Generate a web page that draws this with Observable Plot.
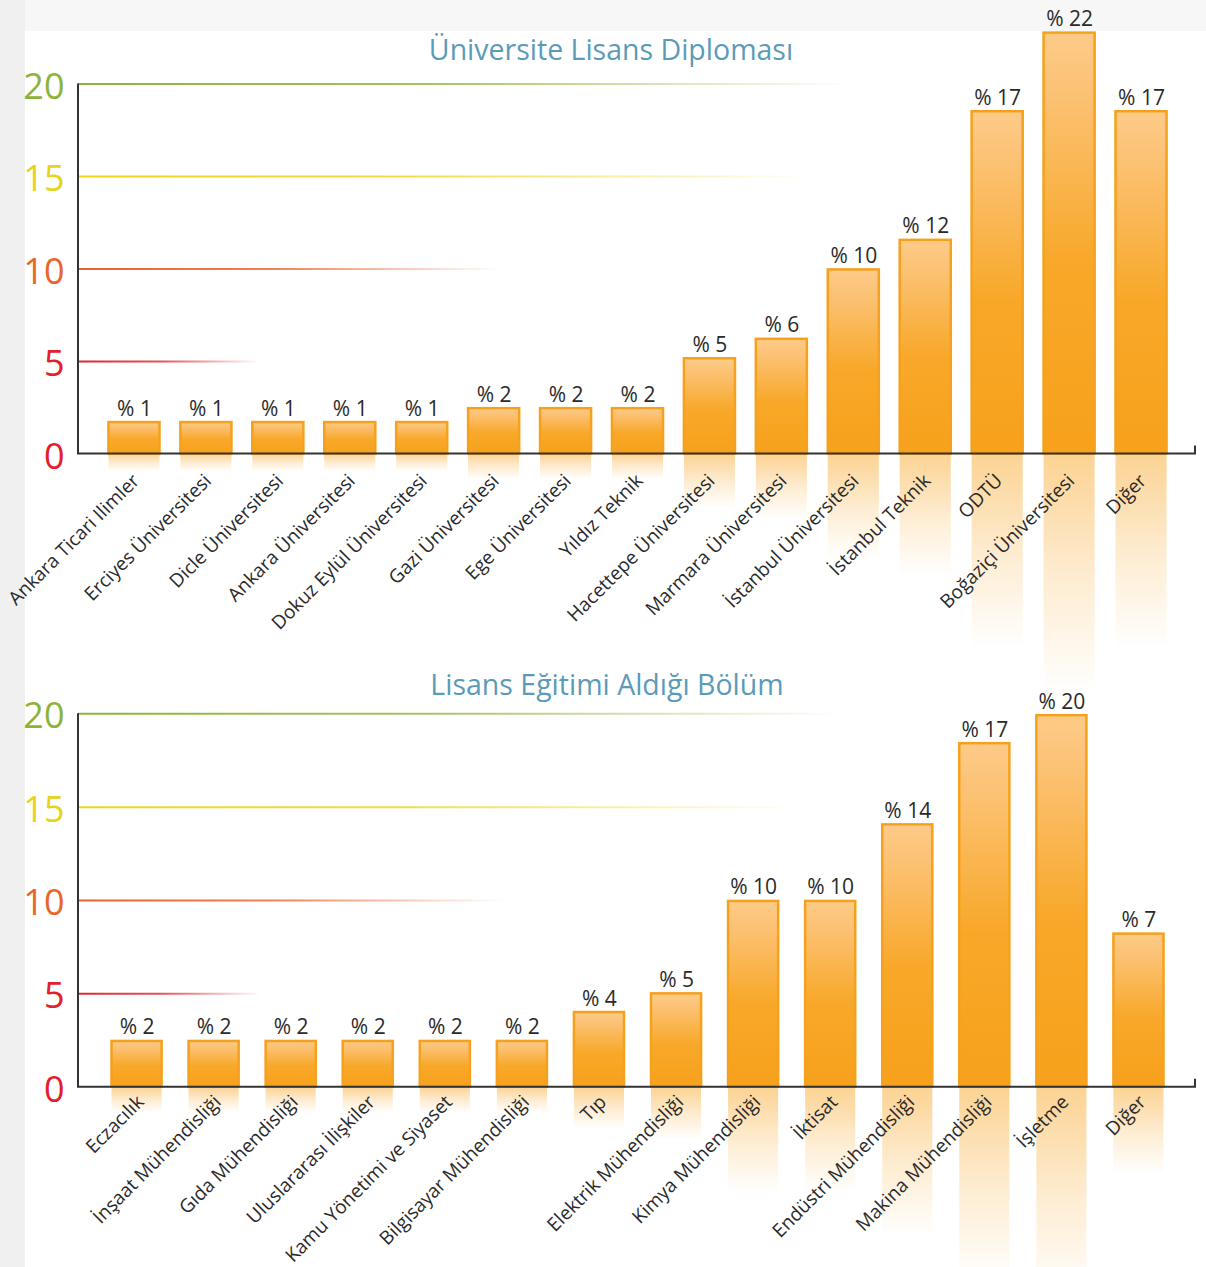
<!DOCTYPE html>
<html>
<head>
<meta charset="utf-8">
<script src="https://cdn.jsdelivr.net/npm/d3@7"></script>
<script src="https://cdn.jsdelivr.net/npm/@observablehq/plot@0.6"></script>
<style>
html, body { margin: 0; padding: 0; }
body { width: 1206px; height: 1267px; position: relative; overflow: hidden; background: #f0f0f0; font-family: "Open Sans", sans-serif; }
#topstrip { position: absolute; left: 25px; top: 0; right: 0; height: 31px; background: #f7f7f7; }
#panel { position: absolute; left: 25px; top: 31px; right: 0; bottom: 0; background: #ffffff; }
.chart { position: absolute; left: 0; }
.title { position: absolute; color: #5b9bb8; font-size: 28.5px; white-space: nowrap; transform: translateX(-50%); line-height: 38px; }
</style>
</head>
<body>
<div id="topstrip"></div>
<div id="panel"></div>
<div id="c1" class="chart" style="top:0px"></div>
<div id="c2" class="chart" style="top:640px"></div>
<div class="title" style="left:611px; top:30px">Üniversite Lisans Diploması</div>
<div class="title" style="left:607px; top:665px">Lisans Eğitimi Aldığı Bölüm</div>
<script>
// ---- Data ----
const universities = ["Ankara Ticari Ilimler", "Erciyes Üniversitesi", "Dicle Üniversitesi", "Ankara Üniversitesi", "Dokuz Eylül Üniversitesi", "Gazi Üniversitesi", "Ege Üniversitesi", "Yıldız Teknik", "Hacettepe Üniversitesi", "Marmara Üniversitesi", "İstanbul Üniversitesi", "İstanbul Teknik", "ODTÜ", "Boğaziçi Üniversitesi", "Diğer"];
const universityPercents = [1, 1, 1, 1, 1, 2, 2, 2, 5, 6, 10, 12, 17, 22, 17];
const universityBarHeights = [1.7, 1.7, 1.7, 1.7, 1.7, 2.45, 2.45, 2.45, 5.15, 6.2, 9.95, 11.55, 18.5, 22.75, 18.5];

const departments = ["Eczacılık", "İnşaat Mühendisliği", "Gıda Mühendisliği", "Uluslararası İlişkiler", "Kamu Yönetimi ve Siyaset", "Bilgisayar Mühendisliği", "Tıp", "Elektrik Mühendisliği", "Kimya Mühendisliği", "İktisat", "Endüstri Mühendisliği", "Makina Mühendisliği", "İşletme", "Diğer"];
const departmentPercents = [2, 2, 2, 2, 2, 2, 4, 5, 10, 10, 14, 17, 20, 7];
const departmentBarHeights = [2.45, 2.45, 2.45, 2.45, 2.45, 2.45, 4.0, 5.0, 9.95, 9.95, 14.05, 18.4, 19.9, 8.2];

const yTicks = [0, 5, 10, 15, 20];
const tickColors = ["#e2202b", "#e2202b", "#e8652b", "#e8d31c", "#8db33b"];
const gridValues = [5, 10, 15, 20];
const gridColors = ["#e0262c", "#e8602c", "#efd41a", "#8db33a"];

function makeChart(cfg) {
  const data = cfg.names.map((name, i) => ({name, h: cfg.heights[i], p: cfg.percents[i]}));
  const id = cfg.id;
  const defs = () => {
    const d = d3.create("svg:defs");
    const bar = d.append("linearGradient").attr("id", id + "-bar").attr("x1", 0).attr("y1", 0).attr("x2", 0).attr("y2", 1);
    [[0, "#fdcb88"], [0.12, "#fcc378"], [0.55, "#f8a829"], [1, "#f7a11c"]].forEach(([o, c]) => bar.append("stop").attr("offset", o).attr("stop-color", c));
    const refl = d.append("linearGradient").attr("id", id + "-refl").attr("x1", 0).attr("y1", 0).attr("x2", 0).attr("y2", 1);
    refl.append("stop").attr("offset", 0).attr("stop-color", "#f8a626").attr("stop-opacity", 0.5);
    refl.append("stop").attr("offset", 0.5).attr("stop-color", "#f8a626").attr("stop-opacity", 0.22);
    refl.append("stop").attr("offset", 1).attr("stop-color", "#f8a626").attr("stop-opacity", 0);
    gridValues.forEach((v, i) => {
      const g = d.append("linearGradient").attr("id", id + "-g" + v).attr("gradientUnits", "userSpaceOnUse")
        .attr("x1", 78).attr("x2", cfg.gridEnds[i]).attr("y1", 0).attr("y2", 0);
      g.append("stop").attr("offset", 0).attr("stop-color", gridColors[i]).attr("stop-opacity", 1);
      g.append("stop").attr("offset", 0.45).attr("stop-color", gridColors[i]).attr("stop-opacity", 0.8);
      g.append("stop").attr("offset", 1).attr("stop-color", gridColors[i]).attr("stop-opacity", 0);
    });
    return d.node();
  };
  const axisLines = (index, scales, values, dims) => {
    const g = d3.create("svg:g").attr("stroke", "#333").attr("stroke-width", 2).attr("fill", "none");
    const x0 = dims.marginLeft;
    const x1 = dims.width - dims.marginRight;
    const yTop = dims.marginTop;
    const yBot = dims.height - dims.marginBottom;
    g.append("path").attr("d", `M${x0},${yTop}V${yBot}H${x1}V${yBot - 8}`);
    return g.node();
  };
  return Plot.plot({
    width: 1206,
    height: cfg.height,
    marginLeft: 78,
    marginRight: 11,
    marginTop: cfg.marginTop,
    marginBottom: cfg.marginBottom,
    style: {background: "transparent", overflow: "visible", fontFamily: "'Open Sans', sans-serif"},
    x: {domain: cfg.names, paddingInner: cfg.padding, paddingOuter: cfg.padding / 2, insetLeft: 20, insetRight: 18, round: false, axis: null},
    y: {domain: [0, 20], axis: null},
    color: {type: "identity"},
    marks: [
      defs,
      ...gridValues.map(v => Plot.ruleY([v], {stroke: `url(#${id}-g${v})`, strokeWidth: 2})),
      Plot.barY(data, {x: "name", y1: 0, y2: d => -d.h * 0.57, fill: `url(#${id}-refl)`}),
      Plot.barY(data, {x: "name", y: "h", fill: `url(#${id}-bar)`, stroke: "#f5a11d", strokeWidth: 2.5}),
      axisLines,
      Plot.text(yTicks, {y: d => d, frameAnchor: "left", dx: -14, dy: 3, textAnchor: "end", fill: (d, i) => tickColors[i], fontSize: 36}),
      Plot.text(data, {x: "name", y: "h", text: d => "% " + d.p, dy: -7, lineAnchor: "bottom", fontSize: 21, fill: "#2a2a2a"}),
      Plot.text(data, {x: "name", y: 0, text: "name", rotate: -45, textAnchor: "end", lineAnchor: "bottom", dx: cfg.labelDx, dy: cfg.labelDy, fontSize: 19, fill: "#2a2a2a"})
    ]
  });
}

document.getElementById("c1").appendChild(makeChart({
  id: "u", names: universities, heights: universityBarHeights, percents: universityPercents,
  height: 640, marginTop: 83.5, marginBottom: 186.5, padding: 0.29,
  gridEnds: [260, 500, 815, 850], labelDx: 6, labelDy: 28
}));
document.getElementById("c2").appendChild(makeChart({
  id: "d", names: departments, heights: departmentBarHeights, percents: departmentPercents,
  height: 627, marginTop: 73.3, marginBottom: 180.3, padding: 0.35,
  gridEnds: [260, 505, 800, 840], labelDx: 8, labelDy: 16
}));
</script>
</body>
</html>
